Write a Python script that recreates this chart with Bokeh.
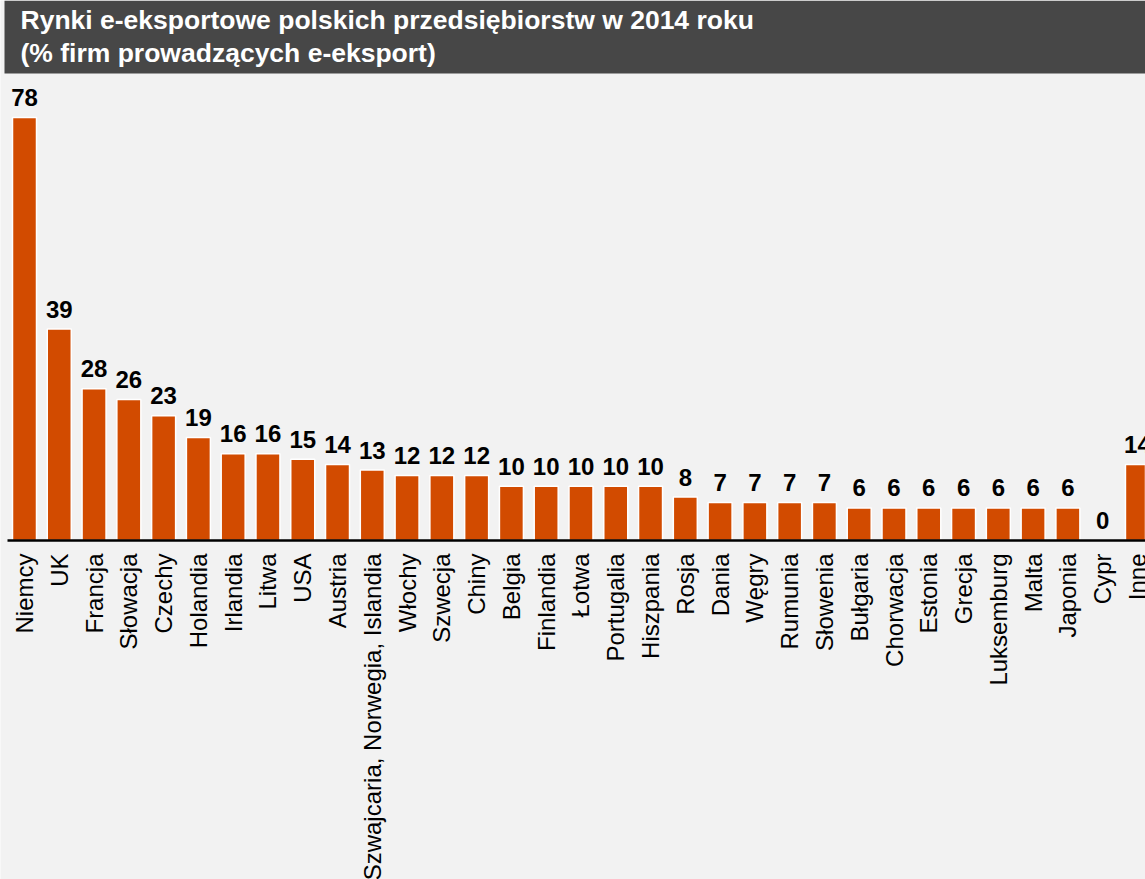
import math
from bokeh.plotting import figure
from bokeh.models import Range1d, BoxAnnotation, ColumnDataSource
from bokeh.core.properties import value
from bokeh.embed import file_html
from bokeh.resources import INLINE

# ---- data ----
title_lines = ["Rynki e-eksportowe polskich przedsiębiorstw w 2014 roku",
               "(% firm prowadzących e-eksport)"]
countries = ["Niemcy", "UK", "Francja", "Słowacja", "Czechy", "Holandia", "Irlandia",
             "Litwa", "USA", "Austria", "Szwajcaria, Norwegia, Islandia", "Włochy",
             "Szwecja", "Chiny", "Belgia", "Finlandia", "Łotwa", "Portugalia",
             "Hiszpania", "Rosja", "Dania", "Węgry", "Rumunia", "Słowenia", "Bułgaria",
             "Chorwacja", "Estonia", "Grecja", "Luksemburg", "Malta", "Japonia",
             "Cypr", "Inne"]
shares = [78, 39, 28, 26, 23, 19, 16, 16, 15, 14, 13, 12, 12, 12, 10, 10, 10, 10, 10,
          8, 7, 7, 7, 7, 6, 6, 6, 6, 6, 6, 6, 0, 14]

# ---- layout ----
W, H = 1145, 879
BASE = 540.0          # pixel row of the zero line
SCALE = 5.423         # pixels per percentage point
PITCH = 34.78         # pixels per category
X0 = 24.0             # pixel column of first bar centre

FONT = "Liberation Sans"
BG = "#F2F2F2"
BAR = "#D24B00"
HEAD = "#474747"

x_start = -X0 / PITCH
x_end = x_start + W / PITCH
p = figure(width=W, height=H, output_backend="svg", toolbar_location=None,
           x_range=Range1d(x_start, x_end),
           y_range=Range1d(-(H - BASE) / SCALE, BASE / SCALE),
           min_border=0, min_border_left=0, min_border_right=0,
           min_border_top=0, min_border_bottom=0)
p.axis.visible = False
p.grid.visible = False
p.outline_line_color = None
p.background_fill_color = BG
p.border_fill_color = BG

idx = list(range(len(countries)))
src = ColumnDataSource(dict(x=idx, top=shares, name=countries,
                            lab=[str(v) for v in shares],
                            zero=[0] * len(idx)))

p.vbar(x="x", top="top", bottom=0, width=0.69, source=src,
       fill_color=BAR, line_color="white", line_width=1.5)

# zero line
p.segment(x0=[x_start + 7 / PITCH], y0=[0], x1=[x_end], y1=[0],
          line_color="black", line_width=2.5)

# value labels
p.text(x="x", y="top", text="lab", source=src, text_align="center",
       text_baseline="alphabetic", y_offset=-20,
       text_font=value(FONT), text_font_style="bold", text_font_size="24px",
       text_color="black")

# category labels (rotated)
p.text(x="x", y="zero", text="name", source=src, text_align="right",
       text_baseline="middle", angle=math.pi / 2, y_offset=13,
       text_font=value(FONT), text_font_size="24px", text_color="black")

# heading bar
head_bottom = (BASE - 73) / SCALE
p.add_layout(BoxAnnotation(bottom=head_bottom, left=x_start + 4 / PITCH,
                           fill_color=HEAD, fill_alpha=1.0,
                           line_color=None, level="underlay"))
tx = x_start + 20 / PITCH
p.text(x=[tx, tx], y=[(BASE - 19.5) / SCALE, (BASE - 52.5) / SCALE], text=title_lines,
       text_align="left", text_baseline="alphabetic",
       text_font=value(FONT), text_font_style="bold", text_font_size="26.5px",
       text_color="white")

open("out.html", "w").write(file_html(p, INLINE))
